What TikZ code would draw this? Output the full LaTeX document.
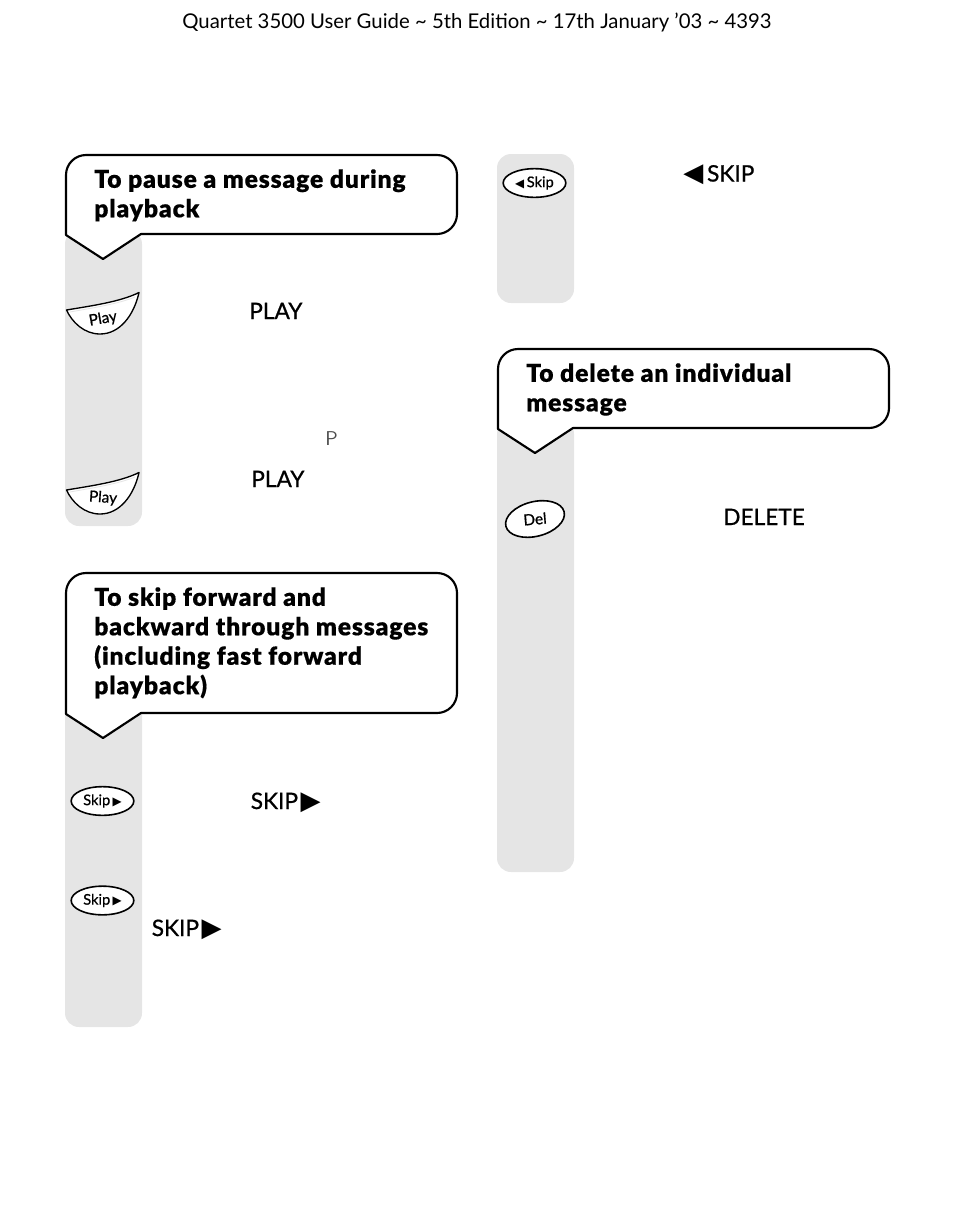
\documentclass[tikz,border=0pt]{standalone}
\usepackage{fontspec}
\setmainfont{Lato}
\newfontfamily\symfont{DejaVu Sans}
\newfontfamily\headfont[LetterSpace=3.5,FakeBold=0.4]{Lato Black}
\newfontfamily\wordfont[FakeBold=0.8]{Lato}
\newcommand{\rtri}{{\symfont\scalebox{1.15}{▶}}}
\newcommand{\ltri}{{\symfont\scalebox{1.15}{◀}}}
\usetikzlibrary{positioning,shapes.geometric}
\definecolor{stripgray}{HTML}{E5E5E5}

\begin{document}
\begin{tikzpicture}[x=0.75pt,y=-0.75pt]
	\tikzstyle{strip}=[fill=stripgray,rounded corners=10.5pt]
	\tikzstyle{callout}=[draw=black,fill=white,line width=1.6pt,line join=round]
	\tikzstyle{heading}=[anchor=north west,inner sep=0pt,align=left,font=\fontsize{18.5}{22.1}\selectfont\headfont]
	\tikzstyle{keyword}=[anchor=base west,inner sep=0pt,font=\fontsize{17}{19}\selectfont\wordfont]
	\tikzstyle{keycap}=[draw=black,fill=white,ellipse,line width=1.2pt,inner sep=0pt,font=\fontsize{11}{13}\selectfont\wordfont]
	\tikzstyle{playcap}=[draw=black,fill=white,line width=1pt,line join=round]
	\tikzstyle{playlabel}=[inner sep=0pt,font=\fontsize{11.5}{13}\selectfont\wordfont]
	\useasboundingbox (0,0) rectangle (954,1225);

	\node[inner sep=0pt,font=\fontsize{15.25}{18}\selectfont] (title) at (477,22) {Quartet 3500 User Guide \textasciitilde{} 5th Edition \textasciitilde{} 17th January ’03 \textasciitilde{} 4393};

	% grey strips
	\fill[strip] (65,230) -- (142,230) -- (142,526) -- (65,526) -- cycle;
	\fill[strip] (65,700) -- (142,700) -- (142,1027) -- (65,1027) -- cycle;
	\fill[strip] (497,154) -- (574,154) -- (574,303) -- (497,303) -- cycle;
	\fill[strip] (497,420) -- (574,420) -- (574,872) -- (497,872) -- cycle;

	% callouts
	\draw[callout] (66,235) [rounded corners=15pt] -- (66,155) -- (457,155) -- (457,234) [sharp corners] -- (141,234) -- (103,259) -- cycle;
	\draw[callout] (66,714) [rounded corners=15pt] -- (66,573) -- (457,573) -- (457,713) [sharp corners] -- (141,713) -- (103,738) -- cycle;
	\draw[callout] (498,429) [rounded corners=15pt] -- (498,349) -- (889,349) -- (889,428) [sharp corners] -- (573,428) -- (535,453) -- cycle;

	\node[heading] (pausehead) at (94,169) {To pause a message during\\playback};
	\node[heading] (skiphead) at (94,587) {To skip forward and\\backward through messages\\(including fast forward\\playback)};
	\node[heading] (delhead) at (526,363) {To delete an individual\\message};

	% play keys
	\draw[playcap] (66.5,310) .. controls (90,306) and (120,302) .. (139,292.5) .. controls (134,315) and (120,334) .. (100,334) .. controls (84,334) and (72,322) .. cycle;
	\draw[stripgray,line width=0.6pt] (70,312) .. controls (92,308) and (118,304) .. (135,297);
	\node[playlabel,rotate=10] (playone) at (103,319) {Play};
	\draw[playcap] (66.5,490) .. controls (90,486) and (120,482) .. (139,472.5) .. controls (134,495) and (120,514) .. (100,514) .. controls (84,514) and (72,502) .. cycle;
	\draw[stripgray,line width=0.6pt] (70,492) .. controls (92,488) and (118,484) .. (135,477);
	\node[playlabel,rotate=-4] (playtwo) at (103,498) {Play};

	% oval keys
	\node[keycap,minimum width=47pt,minimum height=21.5pt] (skipone) at (102.5,801) {Skip\,\scalebox{0.7}{\rtri}};
	\node[keycap,minimum width=47pt,minimum height=21.5pt] (skiptwo) at (102.5,900.5) {Skip\,\scalebox{0.7}{\rtri}};
	\node[keycap,minimum width=47pt,minimum height=21.5pt] (skipback) at (534.5,183) {\scalebox{0.7}{\ltri}\,Skip};
	\node[keycap,minimum width=45pt,minimum height=26pt,rotate=14,font=\fontsize{11.5}{13}\selectfont\wordfont] (delkey) at (535,519) {\rotatebox{-9}{Del}};

	% key words
	\node[keyword] (playword) at (249,319) {PLAY};
	\node[keyword] (pauseword) at (251,487) {PLAY};
	\node[keyword] (skipword) at (250.5,809) {SKIP\hspace{2pt}\rtri};
	\node[keyword] (skipwordb) at (151.5,936) {SKIP\hspace{2pt}\rtri};
	\node[keyword] (backword) at (683,181.5) {\ltri\,SKIP};
	\node[keyword] (delword) at (723,525) {DELETE};
	\node[keyword,text=black!70,font=\fontsize{15}{17}\selectfont\sffamily] (pausemark) at (325,445) {P};
\end{tikzpicture}
\end{document}
